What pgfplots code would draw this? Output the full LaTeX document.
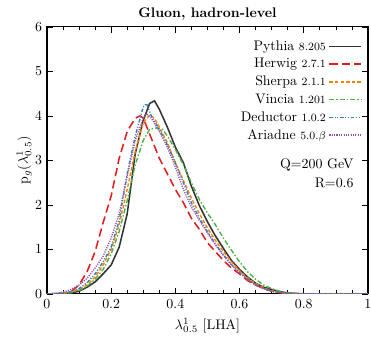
\documentclass[border=0pt]{standalone}
\usepackage{pgfplots}
\pgfplotsset{compat=1.18}
\definecolor{cPy}{HTML}{333333}
\definecolor{cHw}{HTML}{E41A1C}
\definecolor{cSh}{HTML}{FF7F00}
\definecolor{cVi}{HTML}{4DAF4A}
\definecolor{cDe}{HTML}{377EB8}
\definecolor{cAr}{HTML}{984EA3}
\begin{document}
\begin{tikzpicture}
\useasboundingbox (-33.8pt,-31.0pt) rectangle (233.3pt,211.6pt);
\begin{axis}[
  at={(0,0)}, anchor=south west,
  scale only axis, width=231.1pt, height=192.2pt,
  xmin=0, xmax=1, ymin=0, ymax=6,
  xtick={0,0.2,0.4,0.6,0.8,1},
  xticklabels={0,0.2,0.4,0.6,0.8,1},
  ytick={0,1,2,3,4,5,6},
  minor x tick num=3,
  tick align=inside,
  major tick length=4.5pt, minor tick length=2.5pt,
  tick style={black, line width=0.5pt},
  axis line style={line width=0.8pt},
  title={\textbf{Gluon, hadron-level}},
  title style={yshift=-5pt},
  xlabel={$\lambda^1_{0.5}$ [LHA]},
  ylabel={p$_g(\lambda^1_{0.5})$},
  ylabel style={yshift=-4.5pt},
  legend plot pos=right,
  legend cell align=right,
  legend style={draw=none, fill=none, at={(0.986,0.965)}, anchor=north east, row sep=0.3pt, font=\normalsize, inner sep=1pt},
  legend image code/.code={\draw[#1] (0cm,0cm) -- (0.8cm,0cm);},
]
% Pythia
\addplot[cPy, line width=1.1pt] coordinates {
(0,0) (0.05,0) (0.075,0.02) (0.1,0.06) (0.125,0.15) (0.15,0.27) (0.175,0.45) (0.2,0.65) (0.225,1.05) (0.25,1.8) (0.275,3.15) (0.3,3.9) (0.32,4.28) (0.335,4.34) (0.35,4.15) (0.375,3.75) (0.4,3.3) (0.425,2.95) (0.45,2.42) (0.475,1.98) (0.5,1.62) (0.525,1.3) (0.55,1.02) (0.575,0.75) (0.6,0.55) (0.625,0.38) (0.65,0.24) (0.675,0.15) (0.7,0.1) (0.725,0.05) (0.75,0.02) (0.8,0) (1,0)};
\addlegendentry{Pythia {\footnotesize 8.205}}
% Herwig
\addplot[cHw, line width=1.1pt, dash pattern=on 6pt off 3pt] coordinates {
(0,0) (0.05,0.01) (0.075,0.05) (0.1,0.2) (0.125,0.5) (0.15,0.95) (0.175,1.6) (0.2,2.2) (0.225,3.05) (0.25,3.65) (0.275,3.95) (0.29,4.0) (0.3,3.95) (0.325,3.5) (0.35,3.05) (0.375,2.7) (0.4,2.35) (0.425,2.05) (0.45,1.7) (0.475,1.45) (0.5,1.15) (0.525,0.95) (0.55,0.75) (0.575,0.58) (0.6,0.45) (0.625,0.3) (0.65,0.2) (0.675,0.12) (0.7,0.06) (0.725,0.03) (0.75,0.01) (0.8,0) (1,0)};
\addlegendentry{Herwig {\footnotesize 2.7.1}}
% Sherpa
\addplot[cSh, line width=1.0pt, dash pattern=on 2.5pt off 1.5pt] coordinates {
(0,0) (0.05,0.01) (0.075,0.04) (0.1,0.1) (0.125,0.2) (0.15,0.38) (0.175,0.65) (0.2,1.0) (0.225,1.55) (0.25,2.35) (0.275,3.2) (0.3,3.85) (0.32,4.02) (0.335,3.95) (0.35,3.75) (0.375,3.4) (0.4,2.95) (0.425,2.55) (0.45,2.15) (0.475,1.8) (0.5,1.48) (0.525,1.2) (0.55,0.95) (0.575,0.72) (0.6,0.52) (0.625,0.36) (0.65,0.23) (0.675,0.14) (0.7,0.07) (0.725,0.03) (0.75,0.01) (0.8,0) (1,0)};
\addlegendentry{Sherpa {\footnotesize 2.1.1}}
% Vincia
\addplot[cVi, line width=1.0pt, dash pattern=on 3.5pt off 1.5pt on 1pt off 1.5pt] coordinates {
(0,0) (0.05,0.01) (0.075,0.03) (0.1,0.08) (0.125,0.17) (0.15,0.33) (0.175,0.55) (0.2,0.9) (0.225,1.4) (0.25,2.1) (0.275,2.9) (0.3,3.45) (0.32,3.7) (0.34,3.73) (0.36,3.7) (0.375,3.55) (0.4,3.25) (0.425,2.9) (0.45,2.5) (0.475,2.12) (0.5,1.82) (0.525,1.55) (0.55,1.25) (0.575,0.98) (0.6,0.72) (0.625,0.5) (0.65,0.33) (0.675,0.2) (0.7,0.12) (0.725,0.06) (0.75,0.03) (0.775,0.01) (0.8,0) (1,0)};
\addlegendentry{Vincia {\footnotesize 1.201}}
% Deductor
\addplot[cDe, line width=1.0pt, dash pattern=on 2.5pt off 1.2pt on 0.8pt off 1.2pt on 0.8pt off 1.2pt] coordinates {
(0,0) (0.05,0.02) (0.075,0.05) (0.1,0.12) (0.125,0.25) (0.15,0.45) (0.175,0.72) (0.2,1.05) (0.225,1.65) (0.25,2.7) (0.275,3.55) (0.3,4.2) (0.31,4.28) (0.325,4.0) (0.35,3.7) (0.375,3.35) (0.4,2.95) (0.425,2.5) (0.45,2.05) (0.475,1.7) (0.5,1.4) (0.525,1.12) (0.55,0.88) (0.575,0.66) (0.6,0.48) (0.625,0.33) (0.65,0.2) (0.675,0.12) (0.7,0.06) (0.725,0.03) (0.75,0.01) (0.8,0) (1,0)};
\addlegendentry{Deductor {\footnotesize 1.0.2}}
% Ariadne
\addplot[cAr, line width=1.0pt, dash pattern=on 0.8pt off 0.9pt] coordinates {
(0,0) (0.025,0.01) (0.05,0.04) (0.075,0.1) (0.1,0.2) (0.125,0.35) (0.15,0.58) (0.175,0.85) (0.2,1.25) (0.225,1.8) (0.25,2.65) (0.275,3.45) (0.3,3.95) (0.31,4.05) (0.325,3.95) (0.35,3.65) (0.375,3.3) (0.4,2.85) (0.425,2.35) (0.45,1.95) (0.475,1.65) (0.5,1.37) (0.525,1.1) (0.55,0.86) (0.575,0.65) (0.6,0.47) (0.625,0.32) (0.65,0.2) (0.675,0.12) (0.7,0.06) (0.725,0.03) (0.75,0.01) (0.8,0) (1,0)};
\addlegendentry{Ariadne {\footnotesize 5.0.$\beta$}}
\node[anchor=east, inner sep=0pt] at (rel axis cs:0.956,0.483) {Q=200 GeV};
\node[anchor=east, inner sep=0pt] at (rel axis cs:0.956,0.415) {R=0.6};
\end{axis}
\end{tikzpicture}
\end{document}
